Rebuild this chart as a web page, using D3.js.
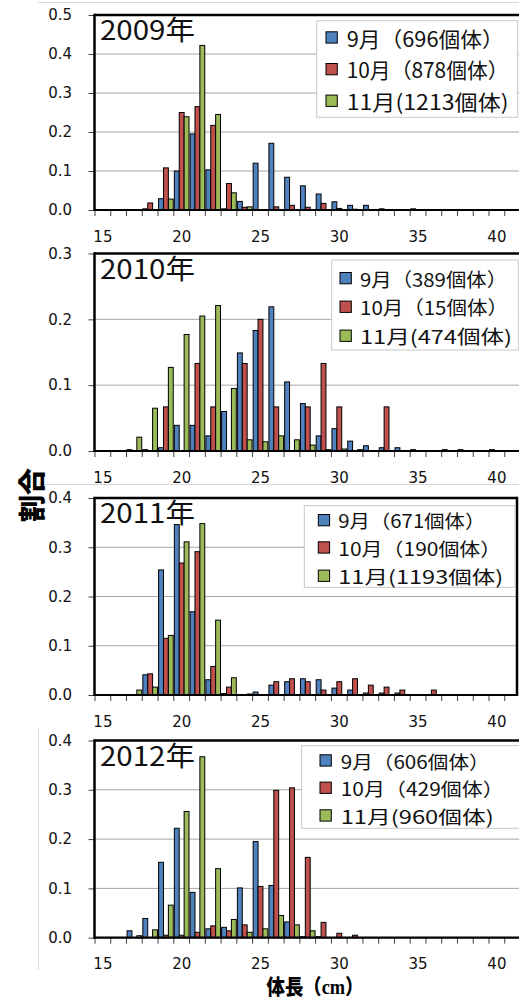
<!DOCTYPE html>
<html>
<head>
<meta charset="utf-8">
<script src="https://cdn.jsdelivr.net/npm/d3@7"></script>
<style>
  html, body { margin: 0; padding: 0; background: #fff; }
  svg { display: block; }
</style>
</head>
<body>
<svg id="chart" width="519" height="998"></svg>
<script>
// 体長階級 (cm) と系列
const lengthClasses = d3.range(15, 42);          // 15 … 41 cm
const xTickLabels = [15, 20, 25, 30, 35, 40];
const months = ["9月", "10月", "11月"];
const monthColors = ["#4F81BD", "#C0504D", "#9BBB59"];

const years = [2009, 2010, 2011, 2012];
const yMaxByYear = [0.5, 0.3, 0.4, 0.4];

// 個体数 (9月, 10月, 11月)
const counts2009 = [696, 878, 1213];
const counts2010 = [389, 15, 474];
const counts2011 = [671, 190, 1193];
const counts2012 = [606, 429, 960];

// 体長組成 (割合)  index 0 = 15cm … index 26 = 41cm
const sep2009 = [0,0,0,0.003,0.029,0.100,0.195,0.103,0.003,0.022,0.120,0.171,0.084,0.062,0.041,0.021,0.012,0.012,0.003,0,0.003,0,0,0,0,0,0];
const oct2009 = [0,0,0,0.018,0.108,0.250,0.265,0.217,0.068,0.007,0,0.008,0.012,0.007,0.017,0.004,0.002,0,0,0,0,0,0,0,0,0,0];
const nov2009 = [0,0,0,0,0.028,0.239,0.422,0.245,0.044,0.008,0,0,0,0,0,0,0,0,0,0,0,0,0,0,0,0,0];

const sep2010 = [0,0,0.002,0.002,0.005,0.039,0.039,0.023,0.060,0.149,0.183,0.219,0.105,0.072,0.023,0.034,0.015,0.008,0.005,0.005,0.002,0,0.002,0.002,0,0.002,0];
const oct2010 = [0,0,0,0,0.067,0,0.133,0.067,0,0.133,0.200,0.067,0,0.067,0.133,0.067,0,0,0.067,0,0,0,0,0,0,0,0];
const nov2010 = [0,0,0.021,0.065,0.127,0.177,0.205,0.221,0.095,0.017,0.014,0.023,0.017,0.009,0.002,0.003,0.002,0,0,0,0,0,0,0,0,0,0];

const sep2011 = [0,0,0,0.041,0.254,0.346,0.169,0.031,0.003,0,0.006,0.020,0.027,0.033,0.031,0.014,0.010,0.004,0.004,0.004,0,0,0,0,0,0,0];
const oct2011 = [0,0,0,0.043,0.115,0.268,0.291,0.058,0.016,0,0,0.027,0.033,0.027,0.010,0.027,0.033,0.020,0.016,0.010,0,0.010,0,0,0,0,0];
const nov2011 = [0,0,0.010,0.016,0.121,0.311,0.348,0.152,0.035,0.002,0,0,0,0,0,0,0,0,0,0,0,0,0,0,0,0,0];

const sep2012 = [0,0,0.014,0.039,0.153,0.222,0.092,0.018,0.021,0.101,0.195,0.106,0.032,0.002,0.002,0,0,0,0,0,0,0,0,0,0,0,0];
const oct2012 = [0,0,0,0,0.005,0.005,0.011,0.024,0.014,0.026,0.104,0.299,0.304,0.163,0.031,0.009,0.005,0,0,0,0,0,0,0,0,0,0];
const nov2012 = [0,0,0.004,0.016,0.066,0.256,0.367,0.140,0.037,0.011,0.018,0.045,0.026,0.014,0,0,0,0,0,0,0,0,0,0,0,0,0];

const seriesByYear = [
  [sep2009, oct2009, nov2009],
  [sep2010, oct2010, nov2010],
  [sep2011, oct2011, nov2011],
  [sep2012, oct2012, nov2012]
];
const countsByYear = [counts2009, counts2010, counts2011, counts2012];

// 各パネルの配置
const panelLayout = [
  { top: 15,    bottom: 210,   right: 520, rightBorder: false,
    legend: { x: 316.7, y: 20.7,  w: 201,   h: 96.6, mx: 326,   tx: 346.7, rows: [37.5, 69.2, 100.8], fs: 21,   tw: [157, 162, 162] } },
  { top: 253.5, bottom: 451,   right: 520, rightBorder: false,
    legend: { x: 331.7, y: 260,   w: 186.6, h: 90,   mx: 340,   tx: 360,   rows: [278.2, 306.8, 335.8], fs: 19, tw: [147, 148, 152] } },
  { top: 498,   bottom: 695,   right: 517, rightBorder: true,
    legend: { x: 304.3, y: 505.7, w: 210.7, h: 81.6, mx: 318.3, tx: 338.3, rows: [520.2, 547.5, 575.8], fs: 18.5, tw: [147, 163, 165] } },
  { top: 740.5, bottom: 937.7, right: 520, rightBorder: false,
    legend: { x: 301.7, y: 745.7, w: 218,   h: 82.6, mx: 320,   tx: 340.7, rows: [760.5, 787.8, 815.5], fs: 18.5, tw: [149, 163, 153] } }
];

const plotLeft = 94.5;
const slotStep = 15.76;
const latinFont = "'DejaVu Sans', 'Noto Sans CJK JP', sans-serif";
const cjkFont = "'Noto Sans CJK JP', 'Noto Sans', sans-serif";

const svg = d3.select("#chart");
svg.append("rect").attr("width", 519).attr("height", 998).attr("fill", "#fff");

// グラフ領域の枠線 (薄い灰色)
const chartEdge = svg.append("g").attr("stroke", "#d9d9d9").attr("stroke-width", 1);
chartEdge.append("line").attr("x1", 38).attr("x2", 519).attr("y1", 2.5).attr("y2", 2.5);
chartEdge.append("line").attr("x1", 38).attr("x2", 519).attr("y1", 484.5).attr("y2", 484.5);
chartEdge.append("line").attr("x1", 38.5).attr("x2", 38.5).attr("y1", 728).attr("y2", 970);

const x = d3.scaleBand()
  .domain(lengthClasses)
  .range([plotLeft + 0.5, plotLeft + 0.5 + lengthClasses.length * slotStep])
  .paddingInner(0.07)
  .paddingOuter(0.035);
const xSub = d3.scaleBand().domain([0, 1, 2]).range([0, x.bandwidth()]);
const boundaries = d3.range(lengthClasses.length + 1).map(i => x.range()[0] + i * x.step());

years.forEach((year, p) => {
  const L = panelLayout[p];
  const yMax = yMaxByYear[p];
  const y = d3.scaleLinear().domain([0, yMax]).range([L.bottom, L.top]);
  const yTicks = d3.range(0, yMax + 1e-9, 0.1).map(v => +v.toFixed(1));
  const g = svg.append("g");

  // 目盛線
  g.append("g")
    .selectAll("line")
    .data(yTicks.filter(v => v > 0))
    .join("line")
    .attr("x1", plotLeft).attr("x2", L.right)
    .attr("y1", d => y(d)).attr("y2", d => y(d))
    .attr("stroke", "#a6a6a6").attr("stroke-width", 1);

  // 棒
  const series = seriesByYear[p];
  const barData = [];
  series.forEach((vals, s) => {
    vals.forEach((v, i) => { if (v > 0) barData.push({ s, len: lengthClasses[i], v }); });
  });
  g.append("g")
    .selectAll("rect")
    .data(barData)
    .join("rect")
    .attr("x", d => x(d.len) + xSub(d.s))
    .attr("width", xSub.bandwidth())
    .attr("y", d => y(d.v))
    .attr("height", d => y(0) - y(d.v))
    .attr("fill", d => monthColors[d.s])
    .attr("stroke", "#000")
    .attr("stroke-width", 1);

  // Y軸
  const yAxis = g.append("g")
    .attr("transform", `translate(${plotLeft},0)`)
    .call(d3.axisLeft(y).tickValues(yTicks).tickFormat(d3.format(".1f")).tickSize(6).tickPadding(16.5));
  yAxis.select(".domain").remove();
  yAxis.selectAll(".tick line").attr("stroke", "#404040");
  yAxis.selectAll(".tick text")
    .attr("font-family", latinFont).attr("font-size", 15).attr("fill", "#111");

  // X軸の区切り目盛
  g.append("g")
    .selectAll("line")
    .data(boundaries)
    .join("line")
    .attr("x1", d => d).attr("x2", d => d)
    .attr("y1", L.bottom).attr("y2", L.bottom + 6)
    .attr("stroke", "#404040").attr("stroke-width", 1);

  // X軸ラベル
  const xAxis = g.append("g")
    .attr("transform", `translate(0,${L.bottom})`)
    .call(d3.axisBottom(x).tickValues(xTickLabels).tickSize(0).tickPadding(21));
  xAxis.select(".domain").remove();
  xAxis.selectAll(".tick text")
    .attr("font-family", latinFont).attr("font-size", 15).attr("fill", "#111");

  // プロットエリアの枠
  const frame = g.append("g").attr("stroke", "#000").attr("fill", "none");
  frame.append("line").attr("x1", plotLeft).attr("x2", L.right)
    .attr("y1", L.top).attr("y2", L.top).attr("stroke-width", 2.5);
  frame.append("line").attr("x1", plotLeft).attr("x2", plotLeft)
    .attr("y1", L.top - 1.25).attr("y2", L.bottom + 1).attr("stroke-width", 2.5);
  frame.append("line").attr("x1", plotLeft).attr("x2", L.right)
    .attr("y1", L.bottom).attr("y2", L.bottom).attr("stroke-width", 2.2);
  if (L.rightBorder) {
    frame.append("line").attr("x1", L.right).attr("x2", L.right)
      .attr("y1", L.top - 1.25).attr("y2", L.bottom + 1).attr("stroke-width", 2.5);
  }

  // 年
  g.append("text")
    .attr("x", 100).attr("y", L.top + 25.3)
    .attr("font-family", cjkFont).attr("font-size", 27)
    .attr("textLength", 95).attr("lengthAdjust", "spacingAndGlyphs")
    .attr("fill", "#111")
    .text(`${year}年`);

  // 凡例
  const lg = L.legend;
  const leg = g.append("g");
  leg.append("rect")
    .attr("x", lg.x).attr("y", lg.y).attr("width", lg.w).attr("height", lg.h)
    .attr("fill", "#fff").attr("stroke", "#c8c8c8").attr("stroke-width", 1);
  const n = countsByYear[p];
  const labels = [
    `${months[0]}（${n[0]}個体）`,
    `${months[1]}（${n[1]}個体）`,
    `${months[2]}(${n[2]}個体)`
  ];
  labels.forEach((t, s) => {
    const cy = lg.rows[s];
    leg.append("rect")
      .attr("x", lg.mx).attr("y", cy - 5.7).attr("width", 11.3).attr("height", 11.3)
      .attr("fill", monthColors[s]).attr("stroke", "#000").attr("stroke-width", 1);
    leg.append("text")
      .attr("x", lg.tx).attr("y", cy)
      .attr("dominant-baseline", "central")
      .attr("font-family", cjkFont).attr("font-size", lg.fs)
      .attr("textLength", lg.tw[s]).attr("lengthAdjust", "spacingAndGlyphs")
      .attr("fill", "#111")
      .text(t);
  });
});

// 軸タイトル
svg.append("text")
  .attr("transform", "translate(30,495) rotate(-90)")
  .attr("text-anchor", "middle").attr("dominant-baseline", "central")
  .attr("font-family", cjkFont).attr("font-weight", 900).attr("font-size", 27)
  .attr("fill", "#000")
  .text("割合");

svg.append("text")
  .attr("x", 315).attr("y", 994)
  .attr("text-anchor", "middle")
  .attr("font-family", "'Liberation Serif', 'Noto Sans CJK JP', serif")
  .attr("font-weight", 900).attr("font-size", 21)
  .attr("textLength", 97).attr("lengthAdjust", "spacingAndGlyphs")
  .attr("fill", "#000")
  .text("体長（cm）");
</script>
</body>
</html>
